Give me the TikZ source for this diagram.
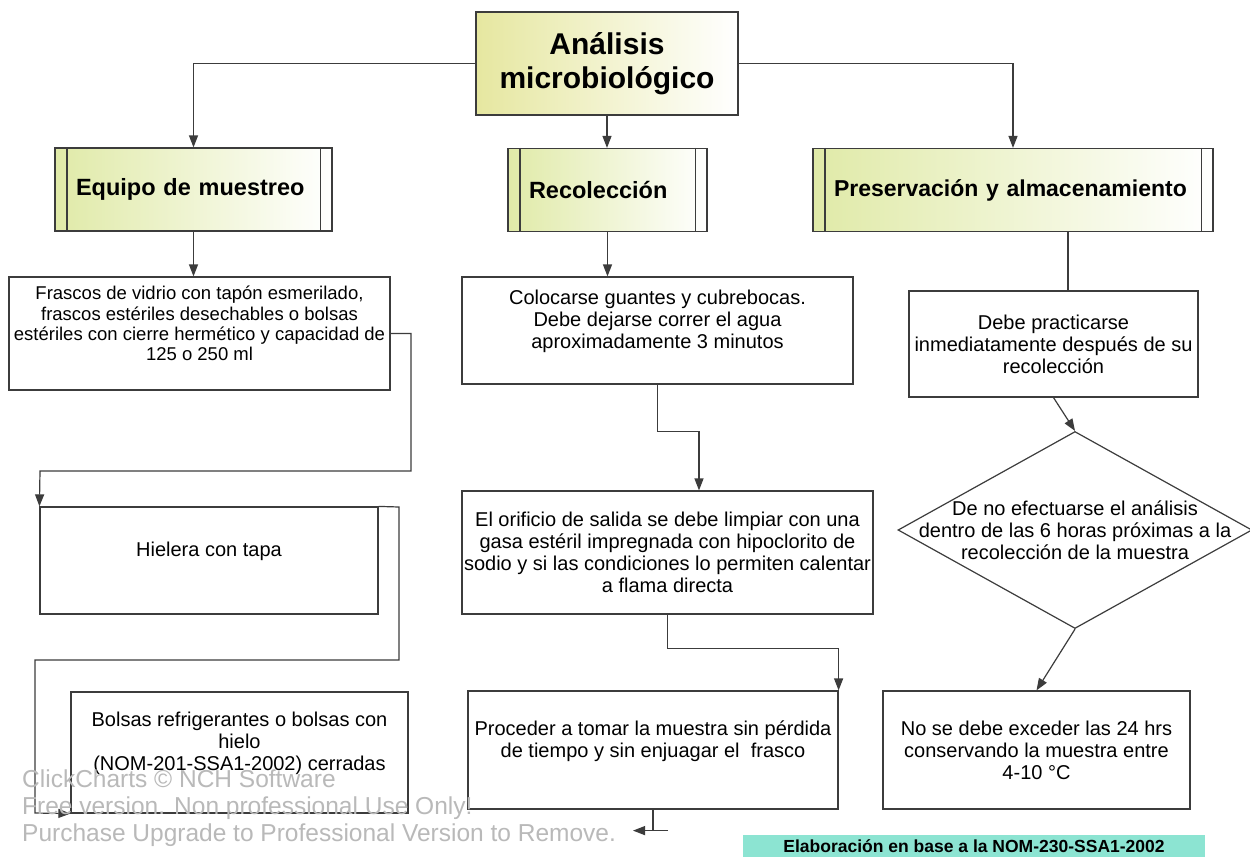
\documentclass[tikz,border=0pt]{standalone}
\usepackage{fontspec}
\setmainfont{Liberation Sans}
\usetikzlibrary{arrows.meta,shapes.geometric,calc}
\definecolor{hdr}{RGB}{224,234,168}
\definecolor{ttl}{RGB}{230,231,160}
\definecolor{labteal}{RGB}{140,228,210}
\definecolor{wmgray}{RGB}{185,185,185}
\definecolor{lin}{RGB}{60,60,60}
\begin{document}
\begin{tikzpicture}[x=1pt,y=-1pt,
  box/.style={draw=lin, line width=1.2pt, rectangle, inner sep=0pt, align=center, fill=white,
    font=\fontsize{20}{22}\selectfont},
  hbox/.style={draw=lin, line width=1.2pt, rectangle, left color=hdr, right color=white,
    inner ysep=0pt, inner xsep=21pt, align=left, minimum height=83pt,
    font=\bfseries\fontsize{23.5}{26}\selectfont},
  conn/.style={draw=lin, line width=1.2pt, -{Triangle[length=12pt,width=9pt]}},
  plain/.style={draw=lin, line width=1.2pt},
  wmark/.style={text=wmgray, inner sep=0pt, font=\fontsize{24.5}{27}\selectfont}
]
\useasboundingbox (0,0) rectangle (1250,857);
\fill[white] (0,0) rectangle (1250,857);

% title
\node[draw=lin, line width=1.2pt, left color=ttl, right color=white, minimum width=262pt,
  minimum height=103pt, inner sep=0pt, align=center,
  font=\bfseries\fontsize{30}{34}\selectfont] (title) at (607,63.5) {Análisis\\microbiológico};

% headers
\node[hbox, text width=235pt] (equipo) at (193.5,189.5) {Equipo de muestreo};
\node[hbox, text width=157pt] (recol) at (607.5,190) {Recolección};
\node[hbox, text width=366pt, inner xsep=17pt, font=\bfseries\fontsize{23}{26}\selectfont]
  (preserv) at (1013,190) {\hspace*{4pt}Preservación y almacenamiento};
\foreach \n in {equipo,recol,preserv}{
  \draw[plain] ([xshift=12.5pt]\n.north west) -- ([xshift=12.5pt]\n.south west);
  \draw[plain] ([xshift=-12.5pt]\n.north east) -- ([xshift=-12.5pt]\n.south east);
}

% left column
\node[box, minimum width=381pt, minimum height=113pt, font=\fontsize{18.5}{20.3}\selectfont]
  (frascos) at (199.5,333.5) {Frascos de vidrio con tapón esmerilado,\\frascos estériles desechables o bolsas\\estériles con cierre hermético y capacidad de\\125 o 250 ml\\\mbox{}};
\node[box, minimum width=338pt, minimum height=107pt] (hielera) at (209,560.5) {Hielera con tapa\\\mbox{}};
\node[box, minimum width=337pt, minimum height=121pt] (bolsas) at (239.5,752.5)
  {Bolsas refrigerantes o bolsas con\\hielo\\(NOM-201-SSA1-2002) cerradas\\\mbox{}};

% middle column
\node[box, minimum width=391pt, minimum height=107pt] (coloc) at (657.5,330.5)
  {Colocarse guantes y cubrebocas.\\Debe dejarse correr el agua\\aproximadamente 3 minutos\\\mbox{}};
\node[box, minimum width=411pt, minimum height=123pt] (orificio) at (667.5,552.5)
  {El orificio de salida se debe limpiar con una\\gasa estéril impregnada con hipoclorito de\\sodio y si las condiciones lo permiten calentar\\a flama directa};
\node[box, minimum width=370pt, minimum height=118pt] (proceder) at (653,750)
  {Proceder a tomar la muestra sin pérdida\\de tiempo y sin enjuagar el~ frasco\\\mbox{}};

% right column
\node[box, minimum width=289pt, minimum height=106pt] (debe) at (1053.5,344)
  {Debe practicarse\\inmediatamente después de su\\recolección};
\node[diamond, draw=lin, line width=1.2pt, aspect=1.8, minimum width=354pt, minimum height=197pt,
  inner sep=0pt, fill=white,
  label={[align=center, font=\fontsize{20}{22}\selectfont]center:{De no efectuarse el análisis\\dentro de las 6 horas próximas a la\\recolección de la muestra}}]
  (diam) at (1075,530) {};
\node[box, minimum width=307pt, minimum height=118pt] (nose) at (1036.5,750)
  {No se debe exceder las 24 hrs\\conservando la muestra entre\\4-10 °C};

% connectors from title
\draw[conn] (title.west) -| (equipo.north);
\draw[conn] (title.south) -- (title.south |- recol.north);
\draw[conn] (title.east) -| (preserv.north);

% left column connectors
\draw[conn] (equipo.south) -- (equipo.south |- frascos.north);
\draw[conn] (frascos.east) -- (411,333.5) -- (411,471) -- (40,471) -- (hielera.north west);
\draw[conn] (hielera.north east) -- (399,507) -- (399,660) -- (35,660) -- (35,813) -- (bolsas.south west);

% middle column connectors
\draw[conn] (recol.south) -- (recol.south |- coloc.north);
\draw[conn] (coloc.south) -- ++(0,47) -| ([xshift=31.5pt]orificio.north);
\draw[conn] (orificio.south) -- ++(0,34) -| (proceder.north east);
\draw[plain] (proceder.south) -- ++(0,21) coordinate (pe);
\draw[conn] ([xshift=15pt]pe) -- ([xshift=-20pt]pe);

% right column connectors
\draw[plain] ([xshift=55pt]preserv.south) -- ([xshift=55pt]preserv.south |- debe.north);
\draw[conn] (debe.south) -- (diam.north);
\draw[conn] (diam.south) -- (nose.north);

% footer label
\node[fill=labteal, minimum width=462pt, minimum height=22pt, inner sep=0pt,
  font=\bfseries\fontsize{17.5}{20}\selectfont] (elab) at (974,846) {Elaboración en base a la NOM-230-SSA1-2002};

% watermark
\node[wmark, anchor=base west] (wm1) at (22,787) {ClickCharts © NCH Software};
\node[wmark, anchor=base west] (wm2) at (22,814) {Free version. Non professional Use Only!};
\node[wmark, anchor=base west] (wm3) at (22,841) {Purchase Upgrade to Professional Version to Remove.};
\end{tikzpicture}
\end{document}
